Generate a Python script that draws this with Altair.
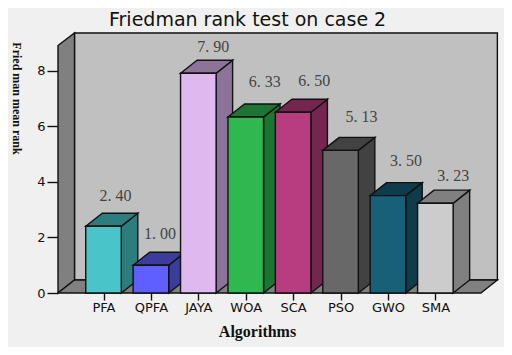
import altair as alt
import pandas as pd

names = ["PFA", "QPFA", "JAYA", "WOA", "SCA", "PSO", "GWO", "SMA"]
ranks = [2.40, 1.00, 7.90, 6.33, 6.50, 5.13, 3.50, 3.23]
rank_labels = ["2. 40", "1. 00", "7. 90", "6. 33", "6. 50", "5. 13", "3. 50", "3. 23"]
front_colors = ["#49c5c9", "#5f5fff", "#e0b8f0", "#30b850", "#b83c80", "#686868", "#186078", "#cccccc"]
side_colors = ["#2d7c7e", "#3c3c9f", "#8e7398", "#1e7432", "#742650", "#424242", "#0f3c4b", "#808080"]
label_nudges = [(12, -30), (9, -31), (15, -26), (19, -35), (21, -31), (21, -33), (18, -35), (18, -27)]

BAR_HALF = 0.375
DX, DY = 0.348, 0.468
S_LEFT, S_RIGHT = -0.96, 7.96
V_TOP = 8.9

xs = alt.Scale(domain=[-0.96, 8.3], nice=False, zero=False)
ys = alt.Scale(domain=[0, 9.35], nice=False, zero=False)
INK = dict(stroke="#111111", strokeWidth=1.4)


def vert_area(rows, color):
    return alt.Chart(pd.DataFrame(rows, columns=["x", "y", "y2"])).mark_area(
        color=color, opacity=1, **INK
    ).encode(
        x=alt.X("x:Q", scale=xs, axis=None),
        y=alt.Y("y:Q", scale=ys, axis=None),
        y2="y2:Q",
    )


def horiz_area(rows, color):
    return alt.Chart(pd.DataFrame(rows, columns=["y", "x", "x2"])).mark_area(
        color=color, opacity=1, orient="horizontal", **INK
    ).encode(
        y=alt.Y("y:Q", scale=ys, axis=None),
        x=alt.X("x:Q", scale=xs, axis=None),
        x2="x2:Q",
    )


back = alt.Chart(pd.DataFrame([{"x": S_LEFT + DX, "x2": S_RIGHT + DX, "y": DY, "y2": 9.35}])).mark_rect(
    color="#c0c0c0", **INK
).encode(
    x=alt.X("x:Q", scale=xs, axis=alt.Axis(
        values=list(range(len(names))), labelExpr="%s[datum.value]" % names,
        grid=False, domain=False, tickSize=7, tickColor="#111111", tickWidth=1.4,
        labelFont="DejaVu Sans", labelFontSize=13, labelColor="#111111", labelPadding=1,
        labelOverlap=False, labelFlush=False,
        title="Algorithms", titleFont="Liberation Serif", titleFontSize=16, titleFontWeight="bold",
        titleColor="#111111", titleX=199, titleY=43, titleBaseline="alphabetic",
    )),
    x2="x2:Q",
    y=alt.Y("y:Q", scale=ys, axis=alt.Axis(
        values=[0, 2, 4, 6, 8], grid=False, domain=False, tickSize=11, tickColor="#111111", tickWidth=1.4,
        labelFont="DejaVu Sans", labelFontSize=13, labelColor="#111111", labelPadding=2,
        title="Fried man mean rank", titleFont="Liberation Serif", titleFontSize=12,
        titleFontWeight="bold", titleColor="#111111", titleX=-46, titleY=65, titleAngle=90,
        titleBaseline="alphabetic",
    )),
    y2="y2:Q",
)

wall = vert_area([(S_LEFT, V_TOP, 0), (S_LEFT + DX, 9.35, DY)], "#808080")
floor = horiz_area([(0, S_LEFT, S_RIGHT), (DY, S_LEFT + DX, S_RIGHT + DX)], "#808080")

layers = [back, wall, floor]
for i, v in enumerate(ranks):
    l, r = i - BAR_HALF, i + BAR_HALF
    layers.append(vert_area([(r, v, 0), (r + DX, v + DY, DY)], side_colors[i]))
    layers.append(horiz_area([(v, l, r), (v + DY, l + DX, r + DX)], side_colors[i]))
    layers.append(vert_area([(l, v, 0), (r, v, 0)], front_colors[i]))

for i, v in enumerate(ranks):
    layers.append(
        alt.Chart(pd.DataFrame({"x": [i], "y": [v], "t": [rank_labels[i]]})).mark_text(
            font="Liberation Serif", fontSize=16, color="#444444", baseline="middle",
            dx=label_nudges[i][0], dy=label_nudges[i][1],
        ).encode(
            x=alt.X("x:Q", scale=xs, axis=None),
            y=alt.Y("y:Q", scale=ys, axis=None),
            text="t:N",
        )
    )

chart = alt.layer(*layers).resolve_axis(x="independent", y="independent").properties(
    width=439,
    height=260,
    background="#f0f0f0",
    padding={"left": 50, "top": 25, "right": 7, "bottom": 54},
    autosize=alt.AutoSizeParams(type="none"),
    title=alt.TitleParams(
        "Friedman rank test on case 2", anchor="start", frame="group", dx=51, dy=7, offset=7,
        font="DejaVu Sans", fontSize=19, fontWeight="normal", color="#111111",
    ),
).configure_view(stroke=None)

chart.save("out.html", embed_options={"renderer": "svg", "actions": False})
